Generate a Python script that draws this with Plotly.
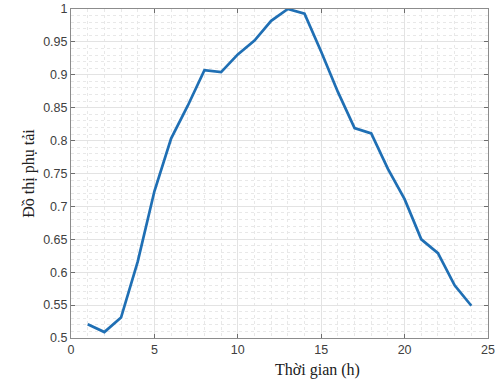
import plotly.graph_objects as go

hours = list(range(1, 25))
load = [0.521, 0.509, 0.531, 0.616, 0.723, 0.803, 0.853, 0.907, 0.904, 0.931, 0.952, 0.982,
        1.0, 0.993, 0.935, 0.874, 0.819, 0.811, 0.757, 0.711, 0.650, 0.629, 0.580, 0.549]

x_ticks = [0, 5, 10, 15, 20, 25]
y_ticks = [0.5, 0.55, 0.6, 0.65, 0.7, 0.75, 0.8, 0.85, 0.9, 0.95, 1]
y_tick_text = ["0.5", "0.55", "0.6", "0.65", "0.7", "0.75", "0.8", "0.85", "0.9", "0.95", "1"]

fig = go.Figure()
fig.add_trace(go.Scatter(x=hours, y=load, mode="lines",
                         line=dict(color="#1f6fb4", width=2.7)))

axis_common = dict(
    showline=True, linecolor="#8c8c8c", linewidth=1, mirror="ticks",
    ticks="inside", ticklen=4, tickcolor="#6e6e6e",
    showgrid=True, gridcolor="#e3e3e3", gridwidth=1,
    zeroline=False, automargin=False,
    tickfont=dict(family="Liberation Sans, Arial", size=12.5, color="#404040"),
)

fig.update_xaxes(range=[0, 25], tickvals=x_ticks, **axis_common,
                 minor=dict(dtick=1, showgrid=True, gridcolor="#e8e8e8", griddash="dot", ticks=""))
fig.update_yaxes(range=[0.5, 1], tickvals=y_ticks, ticktext=y_tick_text, **axis_common,
                 minor=dict(dtick=0.01, showgrid=True, gridcolor="#e8e8e8", griddash="dot", ticks=""),
                 title=dict(text="Đồ thị phụ tải", standoff=4,
                            font=dict(family="Liberation Serif, Times New Roman", size=16, color="#202020")))

fig.add_annotation(text="Thời gian (h)", xref="paper", yref="paper", x=0.592, y=-0.097,
                   xanchor="center", yanchor="middle", showarrow=False,
                   font=dict(family="Liberation Serif, Times New Roman", size=16, color="#202020"))

fig.update_layout(
    width=500, height=381,
    margin=dict(l=71, r=12, t=9, b=43),
    plot_bgcolor="white", paper_bgcolor="white",
    showlegend=False,
)

fig.write_html("out.html", config={"displayModeBar": False},
               post_script="document.body.style.margin='0';document.body.style.overflow='hidden';")
